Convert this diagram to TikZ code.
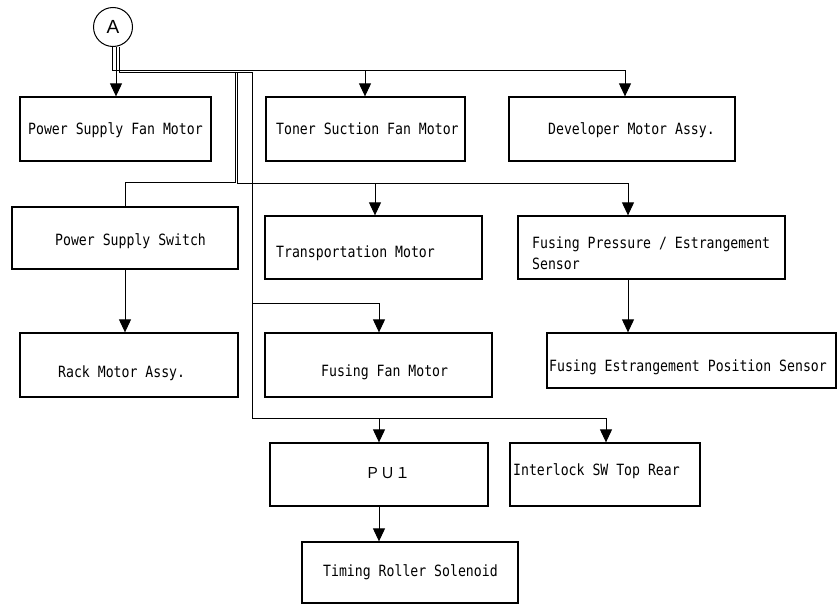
\documentclass[tikz,border=0pt]{standalone}
\usepackage{fontspec}
\newfontfamily\lblfont[FakeStretch=0.85]{DejaVu Sans Mono}
\newfontfamily\cjkfont{Noto Sans CJK JP}
\newfontfamily\arialfont{Liberation Sans}
\usetikzlibrary{arrows.meta,fit,calc}
\begin{document}
\begin{tikzpicture}[x=1pt,y=-1pt,
  box/.style={draw, line width=1.3pt, inner sep=0pt},
  conn/.style={line width=1pt},
  arr/.style={conn, -{Triangle[width=12pt,length=13pt]}},
  lbl/.style={anchor=base west, inner sep=0pt, font=\lblfont\fontsize{15.5}{18}\selectfont}]
\useasboundingbox (0,0) rectangle (839,605);

% circle A
\node[draw, circle, minimum size=39pt, inner sep=0pt, line width=1pt,
      font=\arialfont\fontsize{19}{22}\selectfont] (a) at (113,27) {A};

% boxes
\node[box, fit={(20,97)(211,161)}] (psfan) {};
\node[box, fit={(266,97)(465,161)}] (ton) {};
\node[box, fit={(509,97)(735,161)}] (dev) {};
\node[box, fit={(12,207)(238,269)}] (pss) {};
\node[box, fit={(265,216)(482,279)}] (trans) {};
\node[box, fit={(518,216)(785,279)}] (fps) {};
\node[box, fit={(20,333)(238,397)}] (rack) {};
\node[box, fit={(265,333)(492,397)}] (ffan) {};
\node[box, fit={(547,333)(836,388)}] (fpos) {};
\node[box, fit={(270,443)(488,506)}] (pu) {};
\node[box, fit={(510,443)(700,506)}] (intl) {};
\node[box, fit={(302,542)(518,603)}] (tim) {};

% labels
\node[lbl] (tpsfan) at (28,134) {Power Supply Fan Motor};
\node[lbl] (tton) at (276,134) {Toner Suction Fan Motor};
\node[lbl] (tdev) at (548,134) {Developer Motor Assy.};
\node[lbl] (tpss) at (55,245) {Power Supply Switch};
\node[lbl] (ttrans) at (276,257) {Transportation Motor};
\node[lbl] (tfps1) at (532,248) {Fusing Pressure / Estrangement};
\node[lbl] (tfps2) at (532,269) {Sensor};
\node[lbl] (track) at (58,377) {Rack Motor Assy.};
\node[lbl] (tffan) at (321,376) {Fusing Fan Motor};
\node[lbl] (tfpos) at (549,371) {Fusing Estrangement Position Sensor};
\node[anchor=base west, inner sep=0pt, font=\cjkfont\fontsize{15}{18}\selectfont] (tpu) at (365,478) {ＰＵ１};
\node[lbl] (tintl) at (513,475) {Interlock SW Top Rear};
\node[lbl] (ttim) at (323,576) {Timing Roller Solenoid};

% coordinates
\coordinate (a1) at ([xshift=-1pt]a.south);
\coordinate (a2) at ([xshift=3pt]a.south);
\coordinate (a3) at ([xshift=6pt]a.south);
\coordinate (jdev) at (625,70);
\coordinate (jton) at (365,70);
\coordinate (t3) at (235,72);
\coordinate (b3) at (235,182);
\coordinate (t4) at (237,72);
\coordinate (b4) at (237,183);
\coordinate (jfp) at (628,183);
\coordinate (jtr) at (375,183);
\coordinate (t5) at (252,72);
\coordinate (b5) at (252,418);
\coordinate (jint) at (606,418);
\coordinate (jpu) at (379,418);
\coordinate (m5) at (252,303);
\coordinate (jff) at (379,303);

% connectors from A
\draw[conn] (a1) |- (jdev);
\draw[arr] (jdev) -- (jdev |- dev.north);
\draw[arr] (jton) -- (jton |- ton.north);
\draw[arr] (a2) -- (a2 |- psfan.north);
\draw[conn] (a3) |- (t3) -- (b3) -| (pss.north);
\draw[conn] (a3) |- (t4) -- (b4) -- (jfp);
\draw[arr] (jfp) -- (jfp |- fps.north);
\draw[arr] (jtr) -- (jtr |- trans.north);
\draw[conn] (a3) |- (t5) -- (b5) -- (jint);
\draw[arr] (jint) -- (jint |- intl.north);
\draw[arr] (jpu) -- (jpu |- pu.north);
\draw[conn] (m5) -- (jff);
\draw[arr] (jff) -- (jff |- ffan.north);

% box to box
\draw[arr] (pss.south) -- (pss.south |- rack.north);
\draw[arr] (jfp |- fps.south) -- (jfp |- fpos.north);
\draw[arr] (jpu |- pu.south) -- (jpu |- tim.north);
\end{tikzpicture}
\end{document}
